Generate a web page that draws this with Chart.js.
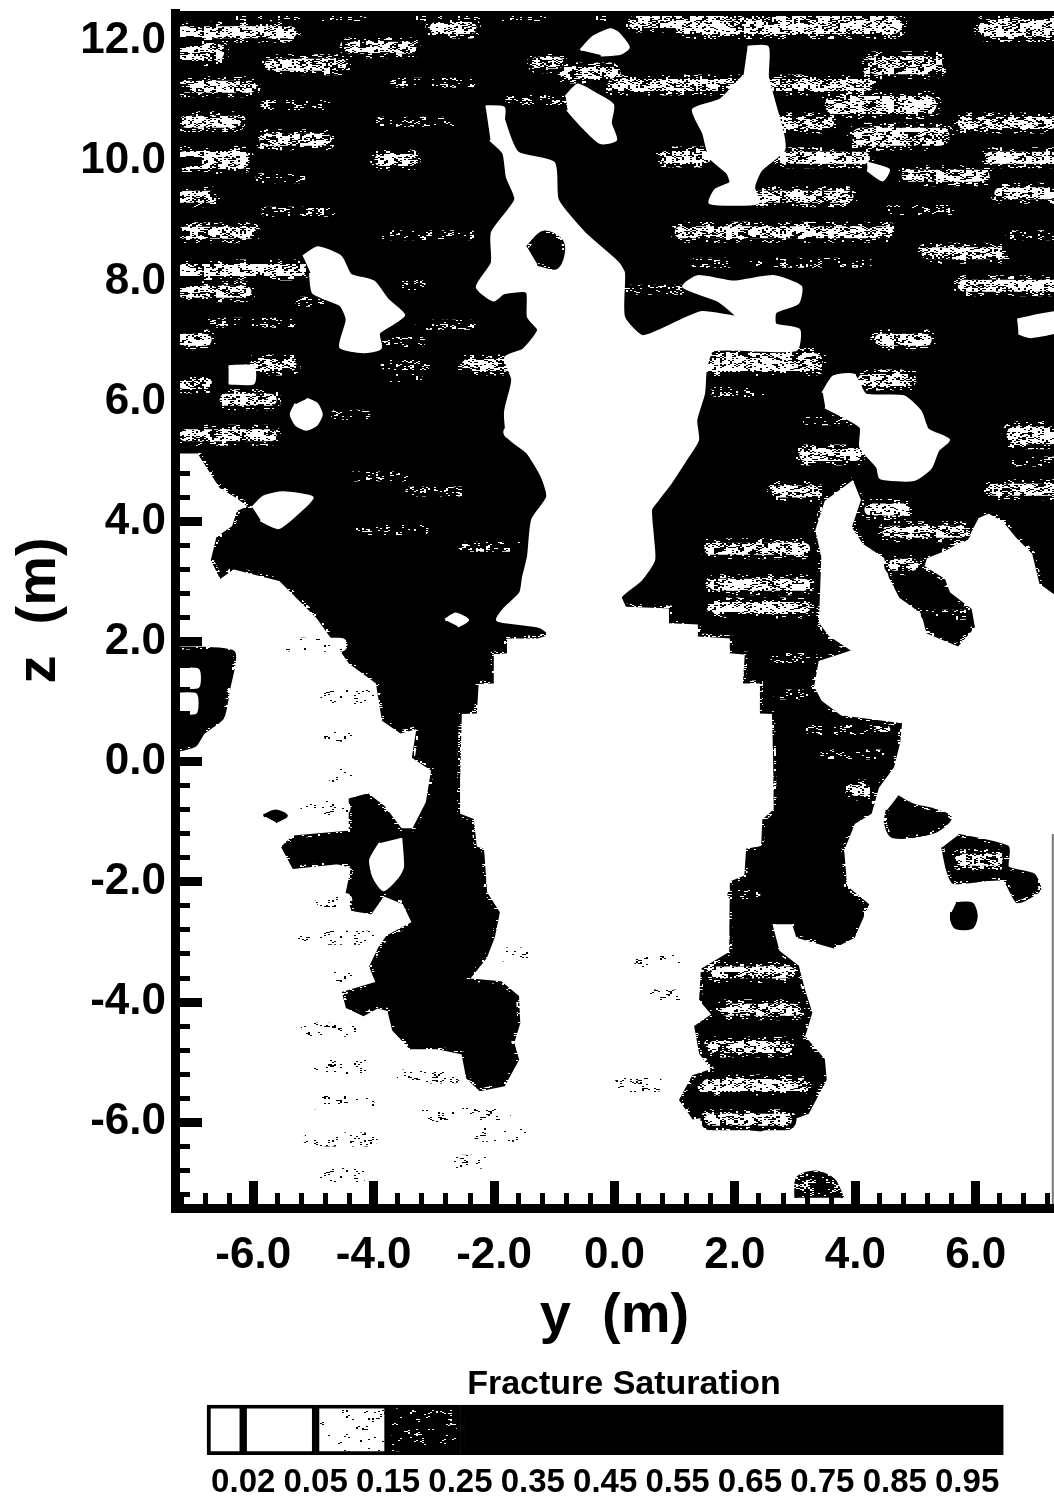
<!DOCTYPE html>
<html>
<head>
<meta charset="utf-8">
<title>Fracture Saturation</title>
<script src="https://cdn.jsdelivr.net/npm/chart.js@4/dist/chart.umd.min.js"></script>
<style>
  html, body { margin: 0; padding: 0; background: #fff; }
  #page { position: relative; width: 1054px; height: 1498px; overflow: hidden; }
  #mainWrap { position: absolute; left: 0; top: 0; width: 1054px; height: 1350px; }
  #legendWrap { position: absolute; left: 194px; top: 1350px; width: 860px; height: 148px; }
  canvas { filter: blur(0.5px); }
</style>
</head>
<body>
<div id="page">
  <div id="mainWrap"><canvas id="mainChart" width="1054" height="1350"></canvas></div>
  <div id="legendWrap"><canvas id="legendChart" width="860" height="148"></canvas></div>
</div>
<script>
// axis ticks, in metres
const yTicks = [-6, -4, -2, 0, 2, 4, 6];
const zTicks = [-6, -4, -2, 0, 2, 4, 6, 8, 10, 12];
const yMinorTicks = [-7.2, -6.8, -6.4, -5.6, -5.2, -4.8, -4.4, -3.6, -3.2, -2.8, -2.4, -1.6, -1.2, -0.8, -0.4, 0.4, 0.8, 1.2, 1.6, 2.4, 2.8, 3.2, 3.6, 4.4, 4.8, 5.2, 5.6, 6.4, 6.8, 7.2];
const zMinorTicks = [-7.2, -6.8, -6.4, -5.6, -5.2, -4.8, -4.4, -3.6, -3.2, -2.8, -2.4, -1.6, -1.2, -0.8, -0.4, 0.4, 0.8, 1.2, 1.6, 2.4, 2.8, 3.2, 3.6, 4.4, 4.8, 5.2, 5.6, 6.4, 6.8, 7.2, 8.4, 8.8, 9.2, 9.6, 10.4, 10.8, 11.2, 11.6, 12.4];

// legend
const legendLabels = ['0.02', '0.05', '0.15', '0.25', '0.35', '0.45', '0.55', '0.65', '0.75', '0.85', '0.95'];
const legendBins = [[-0.5, 0], [0, 1], [1, 2], [2, 3], [3, 10.5]];

// saturated (black) contours, [y, z]
const upperBlack = [[-7.4, 12.6], [7.4, 12.6], [7.4, 2.75], [7.08, 2.98], [6.96, 3.48], [6.69, 3.75], [6.46, 4.03], [6.21, 4.16], [6.03, 4.08], [5.86, 3.75], [5.47, 3.53], [5.17, 3.41], [5.12, 3.25], [5.47, 3.03], [5.55, 2.81], [5.91, 2.53], [5.96, 2.25], [5.7, 1.95], [5.2, 2.16], [5.12, 2.48], [4.75, 2.75], [4.58, 3.08], [4.5, 3.41], [4.14, 3.65], [3.97, 3.91], [4.12, 4.36], [3.97, 4.73], [3.47, 4.36], [3.31, 3.86], [3.41, 3.41], [3.37, 2.31], [3.54, 2.08], [3.87, 1.86], [3.37, 1.7], [3.29, 1.25], [3.42, 1.0], [3.75, 0.75], [4.75, 0.62], [4.72, 0.32], [4.62, -0.08], [4.37, -0.42], [4.25, -0.85], [3.97, -1.02], [3.79, -1.47], [3.84, -2.08], [4.2, -2.38], [3.97, -2.91], [3.64, -3.08], [3.04, -2.91], [2.97, -2.68], [2.59, -2.68], [2.72, -3.16], [3.04, -3.41], [3.14, -3.8], [3.26, -4.18], [3.14, -4.58], [3.47, -4.96], [3.5, -5.29], [3.21, -5.84], [2.43, -6.13], [1.98, -6.08], [1.59, -5.88], [1.31, -5.93], [1.1, -5.63], [1.31, -5.24], [1.64, -5.13], [1.43, -4.85], [1.35, -4.41], [1.64, -4.21], [1.43, -3.96], [1.46, -3.46], [1.93, -3.18], [1.94, -2.01], [2.18, -1.91], [2.21, -1.47], [2.46, -1.42], [2.48, -0.97], [2.67, -0.8], [2.66, 0.03], [2.64, 0.82], [2.44, 0.83], [2.44, 1.33], [2.16, 1.33], [2.19, 1.81], [1.94, 1.83], [1.94, 2.08], [1.41, 2.11], [1.41, 2.31], [0.93, 2.33], [0.93, 2.58], [0.1, 2.61], [-0.9, 2.2], [-1.28, 2.08], [-1.81, 2.08], [-1.81, 1.83], [-2.03, 1.81], [-2.03, 1.33], [-2.28, 1.32], [-2.31, 0.83], [-2.56, 0.82], [-2.59, -0.3], [-2.59, -0.88], [-2.36, -0.97], [-2.31, -1.43], [-2.19, -1.47], [-2.14, -2.18], [-1.93, -2.51], [-2.01, -2.91], [-2.14, -3.25], [-2.44, -3.63], [-1.89, -3.68], [-1.61, -3.91], [-1.59, -4.35], [-1.69, -4.68], [-1.61, -4.96], [-1.84, -5.38], [-2.23, -5.46], [-2.44, -5.26], [-2.52, -4.85], [-2.94, -4.76], [-3.39, -4.76], [-3.67, -4.46], [-3.75, -4.13], [-3.94, -4.08], [-4.17, -4.21], [-4.44, -4.08], [-4.5, -3.85], [-3.94, -3.68], [-4.05, -3.41], [-3.89, -3.08], [-3.77, -2.91], [-3.34, -2.68], [-3.5, -2.35], [-3.84, -2.21], [-4.05, -2.51], [-4.35, -2.46], [-4.44, -2.18], [-4.35, -1.75], [-4.6, -1.68], [-5.33, -1.76], [-5.51, -1.42], [-5.33, -1.25], [-4.39, -1.17], [-4.39, -0.63], [-4.1, -0.55], [-3.84, -0.75], [-3.55, -1.13], [-3.34, -1.13], [-3.11, -0.68], [-3.02, -0.13], [-3.34, 0.08], [-3.26, 0.58], [-3.55, 0.5], [-3.84, 0.7], [-3.94, 1.32], [-4.39, 1.65], [-4.93, 2.41], [-5.55, 3.03], [-6.33, 3.23], [-6.54, 3.08], [-6.68, 3.36], [-6.59, 3.73], [-6.33, 3.91], [-6.25, 4.16], [-6.05, 4.25], [-6.26, 4.41], [-6.54, 4.58], [-6.83, 5.03], [-6.91, 5.16], [-7.4, 5.16]];
const sideLobe = [[-7.4, 1.9], [-6.33, 1.83], [-6.41, 1.2], [-6.51, 0.73], [-6.83, 0.48], [-6.96, 0.28], [-7.21, 0.2], [-7.4, 0.2]];
const dash = [[-5.83, -0.9], [-5.63, -0.82], [-5.45, -0.9], [-5.63, -1.0]];
const rightBlobA = [[4.7, -0.58], [4.97, -0.72], [5.3, -0.8], [5.58, -0.93], [5.3, -1.17], [4.63, -1.25], [4.5, -1.02], [4.53, -0.8]];
const rightBlobB = [[5.71, -1.22], [6.53, -1.42], [6.53, -1.76], [6.96, -1.88], [7.06, -2.13], [6.69, -2.33], [6.46, -1.96], [5.63, -2.01], [5.53, -1.8], [5.45, -1.42]];
const rightDot = [[5.67, -2.36], [5.93, -2.36], [6.0, -2.5], [6.0, -2.63], [5.93, -2.76], [5.67, -2.76], [5.6, -2.63], [5.6, -2.5]];
const plumeIsland = [[-1.45, 8.57], [-1.18, 8.82], [-0.86, 8.64], [-0.95, 8.24], [-1.28, 8.28]];
const bottomBlob = [[3.01, -7.26], [3.04, -6.93], [3.34, -6.83], [3.64, -6.96], [3.79, -7.26]];

// dry (white) contours, [y, z]
const centrePlume = [[-2.14, 10.91], [-1.84, 10.89], [-1.84, 10.69], [-1.61, 10.14], [-1.01, 9.97], [-0.95, 9.36], [-0.51, 8.81], [0.05, 8.31], [0.15, 8.14], [0.15, 7.41], [0.48, 7.08], [1.43, 7.48], [2.04, 7.41], [1.71, 7.69], [1.15, 7.91], [1.38, 8.08], [1.98, 7.99], [2.64, 8.08], [3.09, 7.91], [3.04, 7.64], [2.67, 7.49], [2.67, 7.28], [3.06, 7.19], [3.01, 6.86], [1.64, 6.86], [1.51, 6.53], [1.48, 6.14], [1.35, 5.69], [1.38, 5.36], [1.21, 5.08], [0.93, 4.65], [0.71, 4.36], [0.6, 4.2], [0.63, 3.75], [0.65, 3.36], [0.43, 3.03], [0.1, 2.75], [0.18, 2.5], [-0.9, 2.03], [-1.23, 2.25], [-1.94, 2.36], [-1.84, 2.53], [-1.56, 2.81], [-1.51, 3.08], [-1.43, 3.41], [-1.36, 4.03], [-1.11, 4.41], [-1.2, 4.75], [-1.45, 5.16], [-1.76, 5.41], [-1.81, 5.83], [-1.69, 6.36], [-1.81, 6.73], [-1.51, 6.86], [-1.26, 7.19], [-1.43, 7.41], [-1.45, 7.83], [-1.84, 7.81], [-2.01, 7.69], [-2.28, 7.91], [-2.03, 8.31], [-2.03, 8.81], [-1.64, 9.36], [-1.78, 9.74], [-1.84, 10.14], [-2.06, 10.36]];
const leftPatch = [[-5.17, 8.41], [-4.93, 8.56], [-4.55, 8.41], [-4.39, 8.11], [-4.0, 7.99], [-3.77, 7.69], [-3.5, 7.44], [-3.72, 7.28], [-3.92, 7.14], [-3.89, 6.89], [-4.17, 6.83], [-4.55, 6.91], [-4.44, 7.36], [-4.55, 7.61], [-5.0, 7.81], [-5.05, 8.14]];
const topPatchA = [[-0.81, 11.07], [-0.61, 11.27], [-0.35, 11.14], [-0.03, 10.94], [-0.07, 10.64], [0.02, 10.36], [-0.23, 10.31], [-0.51, 10.56], [-0.78, 10.86]];
const topPatchB = [[-0.56, 11.85], [-0.35, 12.07], [-0.07, 12.19], [0.05, 12.14], [0.23, 11.9], [0.1, 11.8], [-0.23, 11.77]];
const bottlePatch = [[2.21, 11.9], [2.54, 11.9], [2.54, 11.41], [2.64, 11.02], [2.79, 10.47], [2.81, 10.19], [2.43, 9.86], [2.31, 9.57], [2.38, 9.31], [1.59, 9.31], [1.68, 9.52], [1.93, 9.64], [1.88, 9.81], [1.59, 10.07], [1.48, 10.47], [1.31, 10.86], [1.76, 11.02], [2.14, 11.41]];
const smallPatch = [[4.2, 9.97], [4.55, 9.86], [4.45, 9.69], [4.2, 9.86]];
const squarePatch = [[-6.41, 6.58], [-6.0, 6.58], [-6.0, 6.31], [-6.41, 6.31]];
const roundPatch = [[-5.12, 6.04], [-4.95, 5.96], [-4.87, 5.79], [-4.95, 5.62], [-5.12, 5.54], [-5.29, 5.62], [-5.37, 5.79], [-5.29, 5.96]];
const lensPatch = [[-6.01, 4.23], [-5.83, 4.41], [-5.5, 4.48], [-5.02, 4.4], [-5.25, 4.16], [-5.58, 3.9], [-5.88, 4.03]];
const tinyPatch = [[-2.81, 2.36], [-2.64, 2.46], [-2.44, 2.36], [-2.61, 2.26]];
const rightPatch = [[3.46, 6.14], [3.64, 6.41], [3.97, 6.44], [4.17, 6.11], [4.8, 6.08], [5.08, 5.83], [5.2, 5.53], [5.55, 5.36], [5.37, 5.19], [5.25, 4.9], [4.97, 4.7], [4.42, 4.73], [4.37, 4.91], [4.09, 5.24], [4.09, 5.58], [3.5, 5.91]];
const edgePatch = [[6.69, 7.36], [7.4, 7.48], [7.4, 7.19], [6.91, 7.08], [6.71, 7.14]];
const lobeHoleA = [[-7.4, 1.53], [-6.92, 1.53], [-6.92, 1.25], [-7.4, 1.25]];
const lobeHoleB = [[-7.4, 1.12], [-6.96, 1.12], [-6.96, 0.82], [-7.4, 0.82]];
const armHole = [[-3.55, -1.27], [-3.52, -1.75], [-3.6, -1.91], [-3.84, -2.13], [-4.0, -1.91], [-4.05, -1.63], [-3.89, -1.35]];

// horizontal banding, [y from, y to, z]
const wideBands = [[-7.16, -6.63, 11.82], [1.15, 4.63, 12.27], [6.2, 7.4, 12.22], [4.34, 5.3, 11.6], [3.64, 5.2, 10.94], [4.09, 5.42, 10.41], [-7.13, -6.21, 10.02], [1.54, 3.31, 6.66], [6.66, 7.4, 5.44]];
const midBands = [[-7.18, -5.38, 12.15], [-2.97, -2.39, 12.22], [-4.39, -3.39, 11.89], [-5.71, -4.55, 11.61], [-1.28, -0.95, 11.64], [-0.81, -0.07, 11.47], [-7.13, -6.05, 11.24], [-7.13, -6.3, 10.66], [-5.8, -4.8, 10.36], [-3.89, -3.39, 10.02], [-7.16, -6.71, 9.41], [-7.16, -6.05, 8.81], [-7.16, -5.22, 8.19], [-7.16, -6.13, 7.83], [-7.16, -6.79, 7.03], [-5.96, -5.38, 6.61], [-2.44, -1.84, 6.61], [-7.16, -6.79, 6.31], [-6.46, -5.71, 6.03], [-7.13, -5.71, 5.44], [0.32, 1.43, 12.32], [-0.02, 2.09, 11.27], [2.59, 4.2, 11.27], [2.71, 3.54, 10.64], [5.8, 7.24, 10.64], [0.85, 1.51, 10.07], [2.81, 4.14, 10.06], [6.25, 7.4, 10.06], [4.87, 6.13, 9.76], [2.38, 3.87, 9.41], [6.41, 7.4, 9.47], [1.1, 4.53, 8.82], [5.2, 6.41, 8.47], [5.8, 7.4, 7.93], [4.42, 5.17, 7.03], [4.14, 4.92, 6.36], [3.17, 4.0, 5.11], [2.71, 3.3, 4.5], [4.25, 4.8, 4.2], [4.55, 5.75, 3.83], [6.3, 7.4, 4.53], [1.59, 3.15, 3.55], [1.68, 3.15, 2.95], [1.71, 3.15, 2.56], [4.65, 4.95, 3.28], [1.7, 2.9, -3.51], [1.85, 3.0, -4.13], [1.65, 2.85, -4.75], [1.55, 3.1, -5.38], [1.6, 2.85, -5.96], [4.0, 4.15, -0.47], [5.75, 6.35, -1.63]];
const faintBands = [[-6.96, -0.07, 12.42], [-3.64, -2.39, 11.31], [-5.8, -4.8, 10.94], [-1.73, -0.81, 11.02], [-3.89, -2.72, 10.66], [-5.88, -5.22, 9.72], [-5.8, -4.72, 9.16], [-3.8, -2.39, 8.77], [-3.64, -3.22, 7.94], [-5.22, -4.55, 7.66], [-6.71, -5.38, 7.31], [-3.22, -2.39, 7.28], [-3.89, -3.22, 6.99], [-3.8, -3.14, 6.61], [-4.63, -4.14, 5.78], [4.58, 5.75, 9.19], [1.35, 4.2, 8.31], [0.22, 1.1, 7.86], [6.58, 7.4, 8.77], [1.68, 2.43, 6.16], [3.21, 4.09, 5.69], [5.17, 5.83, 2.45], [2.67, 3.3, 1.73], [2.72, 3.17, 1.12], [3.26, 4.5, 0.53], [3.5, 4.4, 0.12], [1.96, 2.34, -2.21], [6.66, 7.4, 5.0], [-4.27, -3.17, 3.86], [-2.51, -1.61, 3.58], [-3.39, -2.56, 4.5], [-4.34, -3.5, 4.75], [-3.89, -3.27, 6.41]];
const sparseBands = [[-4.88, -4.1, -5.08], [-4.93, -4.1, -5.68], [-5.05, -4.05, -6.29], [-4.88, -4.22, -6.88], [-5.17, -4.1, -2.93], [-4.6, -4.39, -3.55], [-5.1, -4.39, -4.46], [-4.85, -4.47, -2.3], [-5.1, -4.5, -0.77], [-3.5, -2.67, -5.24], [-3.17, -2.67, -5.91], [-2.51, -1.84, -5.88], [-2.23, -1.56, -6.21], [-2.72, -2.23, -6.66], [-1.84, -1.51, -3.21], [-5.38, -4.55, 1.95], [-4.77, -4.1, 1.08], [-4.72, -4.44, 0.45], [-4.67, -4.44, -0.22], [0.32, 0.81, 5.81], [-1.73, -1.35, 5.49], [-1.11, 0.05, 5.49], [0.43, 0.98, -3.3], [0.65, 1.05, -3.91], [0.1, 0.71, -5.38]];
const rightEdge = [[7.28, -1.2], [7.28, -7.43]];

// speckle textures for the intermediate saturation classes
function hashAt(x, y) {
    const s = Math.sin(x * 12.9898 + y * 78.233) * 43758.5453;
    return s - Math.floor(s);
}
function makeSpeckle(blackShare) {
    const c = document.createElement('canvas');
    c.width = 180;
    c.height = 120;
    const g = c.getContext('2d');
    g.fillStyle = '#fff';
    g.fillRect(0, 0, c.width, c.height);
    g.fillStyle = '#000';
    for (let y = 0; y < c.height; y++) {
        for (let x = 0; x < c.width; x += 2) {
            const v = 0.55 * hashAt(x, y) + 0.45 * hashAt(Math.floor(x / 6) + 5, Math.floor(y / 4) + 9);
            if (v < blackShare) g.fillRect(x, y, 2, 1);
        }
    }
    return g.createPattern(c, 'repeat');
}
const speckleBright = makeSpeckle(0.4);
const speckleDark = makeSpeckle(0.72);
const speckleSparse = makeSpeckle(0.2);
const speckleLegendLight = makeSpeckle(0.12);
const speckleLegendDark = makeSpeckle(0.84);

function toPoints(list) {
    return list.map(p => ({ x: p[0], y: p[1] }));
}
function shape(list, color, edge, tension) {
    return {
        data: toPoints(list), showLine: true, fill: 'shape', tension: tension,
        backgroundColor: color, borderColor: edge,
        borderWidth: 3, pointRadius: 0
    };
}
function band(b, pattern, width) {
    return {
        data: [{ x: b[0], y: b[2] }, { x: b[1], y: b[2] }], showLine: true, fill: false,
        borderColor: pattern, borderWidth: width, borderCapStyle: 'round', pointRadius: 0
    };
}

// paint order, first entry at the back
const layers = [
    shape(upperBlack, '#000', speckleDark, 0),
    shape(sideLobe, '#000', speckleDark, 0.2),
    shape(dash, '#000', '#000', 0.3),
    shape(rightBlobA, '#000', speckleDark, 0.3),
    shape(rightBlobB, '#000', speckleDark, 0.2),
    shape(rightDot, '#000', '#000', 0.3),
    shape(bottomBlob, speckleDark, speckleDark, 0.3),
    ...sparseBands.map(b => band(b, speckleSparse, 14)),
    // soft halo round the bright bands
    ...wideBands.map(b => band(b, speckleDark, 28)),
    ...midBands.map(b => band(b, speckleDark, 21)),
    ...wideBands.map(b => band(b, speckleBright, 18)),
    ...midBands.map(b => band(b, speckleBright, 12)),
    ...faintBands.map(b => band(b, speckleDark, 10)),
    ...[centrePlume, leftPatch, topPatchA, topPatchB, bottlePatch, smallPatch, squarePatch, roundPatch, lensPatch, tinyPatch, rightPatch, edgePatch, lobeHoleA, lobeHoleB, armHole].map(s => shape(s, '#fff', '#fff', 0.2)),
    shape(plumeIsland, '#000', speckleDark, 0.35),
    { data: toPoints(rightEdge), showLine: true, fill: false, borderColor: '#777', borderWidth: 2, pointRadius: 0 }
];
layers.forEach((d, i) => { d.order = layers.length - i; });

const boldFont = size => ({ family: '"Liberation Sans", Arial, sans-serif', size: size, weight: 'bold' });

// the frame is fixed, so the axes must not ask for extra room
function noPadding(scale) {
    scale.paddingLeft = scale.paddingRight = scale.paddingTop = scale.paddingBottom = 0;
}
function fitHeight(h) {
    return scale => { scale.height = h; noPadding(scale); };
}
function fitWidth(w) {
    return scale => { scale.width = w; noPadding(scale); };
}
function useTicks(list) {
    return scale => { scale.ticks = list.map(v => ({ value: v })); };
}
const tickGrid = (len, w) => ({ drawOnChartArea: false, tickLength: len, tickWidth: w, tickColor: '#000', z: 2 });

new Chart(document.getElementById('mainChart'), {
    type: 'scatter',
    data: { datasets: layers },
    options: {
        responsive: false,
        animation: false,
        events: [],
        layout: { padding: { top: 13, left: 0, right: 0, bottom: 0 } },
        plugins: { legend: { display: false }, tooltip: { enabled: false } },
        scales: {
            x: {
                type: 'linear', min: -7.3, max: 7.3, position: 'bottom',
                afterBuildTicks: useTicks(yTicks),
                afterFit: fitHeight(142),
                grid: tickGrid(-27, 9),
                border: { display: true, color: '#000', width: 9, z: 3 },
                ticks: { color: '#000', font: boldFont(44), padding: 48, maxRotation: 0, autoSkip: false, z: 2, callback: v => v.toFixed(1) },
                title: { display: true, text: 'y  (m)', color: '#000', font: boldFont(56), padding: { top: 0, bottom: 0 } }
            },
            y: {
                type: 'linear', min: -7.43, max: 12.47, position: 'left',
                afterBuildTicks: useTicks(zTicks),
                afterFit: fitWidth(175),
                grid: tickGrid(-27, 9),
                border: { display: true, color: '#000', width: 9, z: 3 },
                ticks: { color: '#000', font: boldFont(44), padding: 36, autoSkip: false, z: 2, callback: v => v.toFixed(1) },
                title: { display: true, text: 'z  (m)', color: '#000', font: boldFont(56), padding: { top: 6, bottom: 0 } }
            },
            yMinor: {
                type: 'linear', min: -7.3, max: 7.3, position: 'bottom', weight: -1,
                afterBuildTicks: useTicks(yMinorTicks), afterFit: fitHeight(0),
                grid: tickGrid(-15, 5), border: { display: false }, ticks: { display: false }
            },
            zMinor: {
                type: 'linear', min: -7.43, max: 12.47, position: 'left', weight: -1,
                afterBuildTicks: useTicks(zMinorTicks), afterFit: fitWidth(0),
                grid: tickGrid(-15, 5), border: { display: false }, ticks: { display: false }
            },
            frameTop: {
                type: 'linear', min: -7.3, max: 7.3, position: 'top', afterFit: fitHeight(0),
                grid: { drawOnChartArea: false, drawTicks: false },
                border: { display: true, color: '#000', width: 5, z: 3 }, ticks: { display: false }
            }
        }
    }
});

const legendFills = ['#fff', '#fff', speckleLegendLight, speckleLegendDark, '#000'];

new Chart(document.getElementById('legendChart'), {
    type: 'bar',
    data: {
        labels: [''],
        datasets: legendBins.map((b, i) => ({
            data: [b], backgroundColor: legendFills[i], borderColor: '#000', borderWidth: 4,
            borderSkipped: false, barPercentage: 1, categoryPercentage: 1, grouped: false
        }))
    },
    options: {
        indexAxis: 'y',
        responsive: false,
        animation: false,
        events: [],
        layout: { padding: 0 },
        plugins: {
            legend: { display: false },
            tooltip: { enabled: false },
            title: { display: true, text: 'Fracture Saturation', color: '#000', font: boldFont(34), padding: { top: 14, bottom: 0 } }
        },
        scales: {
            x: {
                type: 'linear', min: -0.68, max: 11.2,
                afterBuildTicks: scale => { scale.ticks = legendLabels.map((l, i) => ({ value: i })); },
                afterFit: fitHeight(43),
                grid: { display: false },
                border: { display: false },
                ticks: { color: '#000', font: boldFont(33), padding: 0, maxRotation: 0, autoSkip: false, callback: v => legendLabels[v] }
            },
            y: { display: false }
        }
    }
});
</script>
</body>
</html>
